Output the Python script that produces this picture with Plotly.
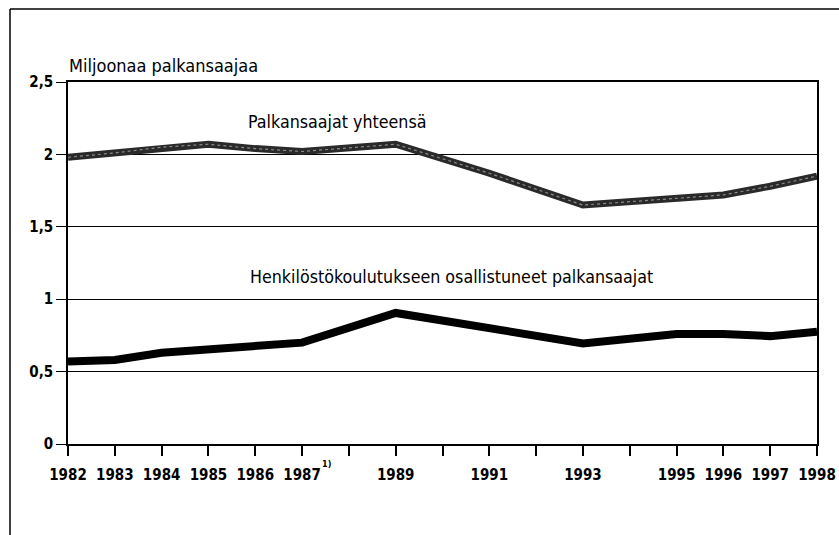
import plotly.graph_objects as go

years = [1982, 1983, 1984, 1985, 1986, 1987, 1989, 1991, 1993, 1995, 1996, 1997, 1998]
total = [1.98, 2.01, 2.05, 2.07, 2.04, 2.02, 2.07, 1.87, 1.65, 1.70, 1.72, 1.78, 1.85]
training = [0.57, 0.58, 0.63, 0.655, 0.67, 0.70, 0.905, 0.80, 0.695, 0.76, 0.76, 0.745, 0.775]

tick_years = list(range(1982, 1999))
labelled = {1982, 1983, 1984, 1985, 1986, 1987, 1989, 1991, 1993, 1995, 1996, 1997, 1998}
tick_text = [str(y) if y in labelled else "" for y in tick_years]
y_vals = [0, 0.5, 1, 1.5, 2, 2.5]
y_text = ["0", "0,5", "1", "1,5", "2", "2,5"]

FONT = "DejaVu Sans Condensed, Liberation Sans Narrow, sans-serif"

fig = go.Figure()
fig.add_trace(go.Scatter(x=years, y=total, mode="lines",
                         line=dict(color="#2a2a2a", width=7), hoverinfo="skip"))
fig.add_trace(go.Scatter(x=years, y=total, mode="lines",
                         line=dict(color="#8a8a8a", width=1.2, dash="dot"), hoverinfo="skip"))
fig.add_trace(go.Scatter(x=years, y=training, mode="lines",
                         line=dict(color="black", width=8), hoverinfo="skip"))

W, H = 839, 535
L, T = 68, 82
R = W - 817
B = H - 444
pw, ph = W - L - R, H - T - B


def px(xs):
    return (xs - L) / pw


def py(ys):
    return (H - B - ys) / ph


fig.update_layout(
    width=W, height=H,
    margin=dict(l=L, r=R, t=T, b=B, autoexpand=False),
    paper_bgcolor="white", plot_bgcolor="white",
    showlegend=False,
    font=dict(family=FONT, color="black", size=15),
    xaxis=dict(range=[1982, 1998], tickvals=tick_years, ticktext=tick_text,
               showgrid=False, zeroline=False, showline=True, linecolor="black",
               linewidth=1.5, mirror=True, ticks="outside", ticklen=10,
               tickcolor="black", tickwidth=1.5, ticklabelstandoff=6,
               tickfont=dict(family=FONT, size=15, weight="bold")),
    yaxis=dict(range=[0, 2.5], tickvals=y_vals, ticktext=y_text,
               showgrid=True, gridcolor="black", gridwidth=1.2, zeroline=False,
               showline=True, linecolor="black", linewidth=1.5, mirror=True,
               ticks="outside", ticklen=10, tickcolor="black", tickwidth=1.2,
               tickfont=dict(family=FONT, size=15, weight="bold")),
    shapes=[
        dict(type="line", xref="paper", yref="paper", x0=px(10), x1=px(839),
             y0=py(9), y1=py(9), line=dict(color="black", width=1.5)),
        dict(type="line", xref="paper", yref="paper", x0=px(10), x1=px(10),
             y0=py(9), y1=py(535), line=dict(color="black", width=1.5)),
    ],
    annotations=[
        dict(text="Miljoonaa palkansaajaa", xref="paper", yref="paper",
             x=px(67), y=py(66), xanchor="left", yanchor="middle", showarrow=False,
             font=dict(family=FONT, size=18)),
        dict(text="Palkansaajat yhteensä", xref="paper", yref="paper",
             x=px(246), y=py(122), xanchor="left", yanchor="middle", showarrow=False,
             font=dict(family=FONT, size=17.7)),
        dict(text="Henkilöstökoulutukseen osallistuneet palkansaajat", xref="paper",
             yref="paper", x=px(248), y=py(277), xanchor="left", yanchor="middle",
             showarrow=False, font=dict(family=FONT, size=17.7)),
        dict(text="1)", xref="x", yref="paper", x=1987, y=py(464), xanchor="left",
             yanchor="middle", xshift=18, showarrow=False,
             font=dict(family=FONT, size=9, weight="bold")),
    ],
)

fig.write_html("out.html", post_script="document.body.style.margin='0';",
               config={"displayModeBar": False})
